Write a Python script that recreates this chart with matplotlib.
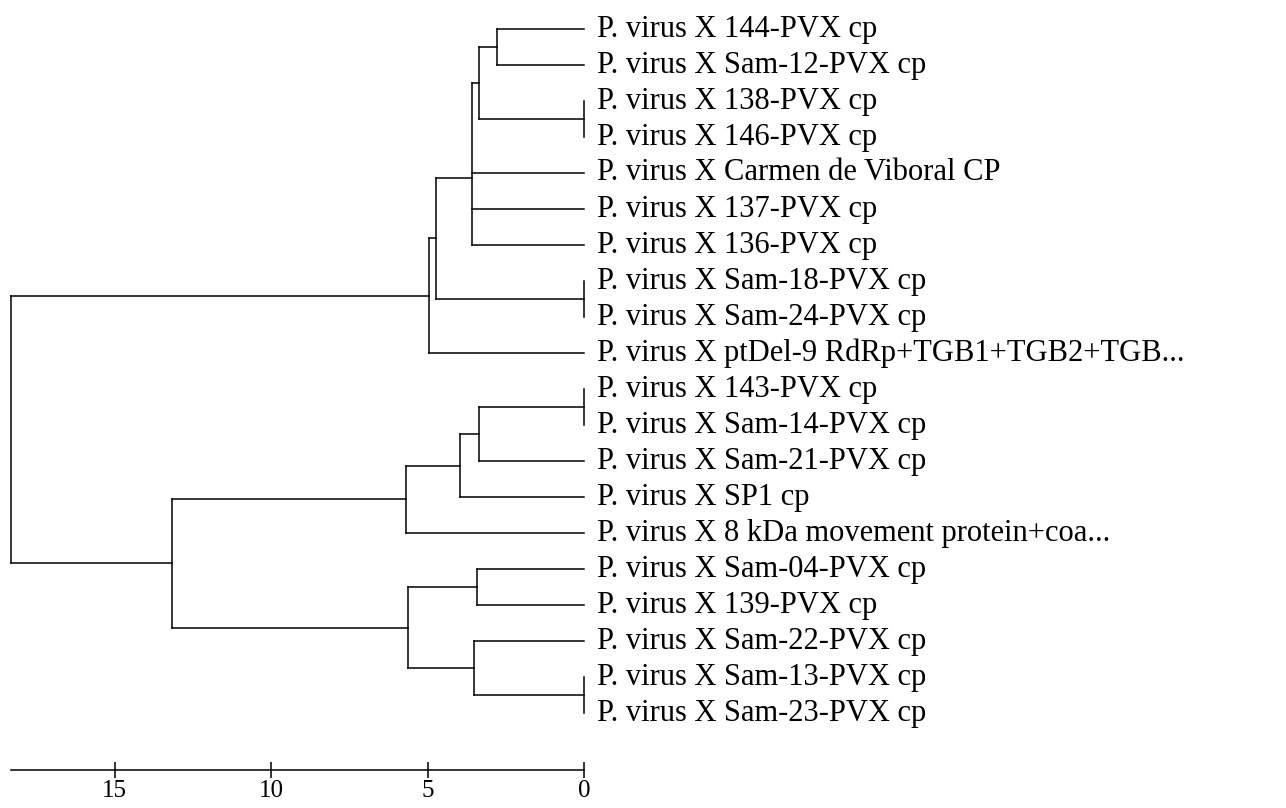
import numpy as np
import matplotlib
matplotlib.use('Agg')
import matplotlib.pyplot as plt

plt.rcParams['font.family'] = ['Liberation Serif', 'DejaVu Serif']

# leaf labels, top to bottom
labels = ['P. virus X 144-PVX cp', 'P. virus X Sam-12-PVX cp', 'P. virus X 138-PVX cp',
          'P. virus X 146-PVX cp', 'P. virus X Carmen de Viboral CP', 'P. virus X 137-PVX cp',
          'P. virus X 136-PVX cp', 'P. virus X Sam-18-PVX cp', 'P. virus X Sam-24-PVX cp',
          'P. virus X ptDel-9 RdRp+TGB1+TGB2+TGB...', 'P. virus X 143-PVX cp',
          'P. virus X Sam-14-PVX cp', 'P. virus X Sam-21-PVX cp', 'P. virus X SP1 cp',
          'P. virus X 8 kDa movement protein+coa...', 'P. virus X Sam-04-PVX cp',
          'P. virus X 139-PVX cp', 'P. virus X Sam-22-PVX cp', 'P. virus X Sam-13-PVX cp',
          'P. virus X Sam-23-PVX cp']

# internal nodes: name -> (children, height)
nodes = {
    'A': ([0, 1], 2.78),
    'B': ([2, 3], 0.0),
    'C': (['A', 'B'], 3.35),
    'P': (['C', 4, 5, 6], 3.57),
    'D': ([7, 8], 0.0),
    'E': (['P', 'D'], 4.74),
    'F': (['E', 9], 4.95),
    'G': ([10, 11], 0.0),
    'H': (['G', 12], 3.35),
    'I': (['H', 13], 3.95),
    'J': (['I', 14], 5.68),
    'K': ([15, 16], 3.41),
    'M': ([18, 19], 0.0),
    'L': ([17, 'M'], 3.52),
    'N': (['K', 'L'], 5.63),
    'O': (['J', 'N'], 13.16),
    'root': (['F', 'O'], 18.3),
}
ticks = [0, 5, 10, 15]

fig = plt.figure(figsize=(12.86, 8.08), dpi=100)
ax = fig.add_axes([0, 0, 1, 1])
lw = 1.1


def pos(n):
    # returns (height, y) of a node or leaf
    if isinstance(n, int):
        return 0.0, float(n)
    kids, h = nodes[n]
    ys = [pos(k)[1] for k in kids]
    return h, np.mean(ys)


for name, (kids, h) in nodes.items():
    kp = [pos(k) for k in kids]
    ys = [p[1] for p in kp]
    ax.plot([h, h], [min(ys), max(ys)], color='black', lw=lw, solid_capstyle='projecting')
    for kh, ky in kp:
        ax.plot([h, kh], [ky, ky], color='black', lw=lw, solid_capstyle='projecting')

for i, lab in enumerate(labels):
    ax.text(-0.4, i, lab, fontsize=22, va='center', ha='left')

ax.set_xlim(18.66, -22.43)
ax.set_ylim((808 - 29) / 36, -29 / 36)

for s in ['top', 'left', 'right']:
    ax.spines[s].set_visible(False)
ax.spines['bottom'].set_position(('data', (770 - 29) / 36))
ax.spines['bottom'].set_bounds(0, 18.3)
ax.spines['bottom'].set_linewidth(lw)
ax.set_xticks(ticks)
ax.set_xticklabels([str(t) for t in ticks])
ax.tick_params(axis='x', direction='inout', length=11, width=lw, pad=2, labelsize=18)
ax.set_yticks([])

fig.savefig('out.png', dpi=100)
